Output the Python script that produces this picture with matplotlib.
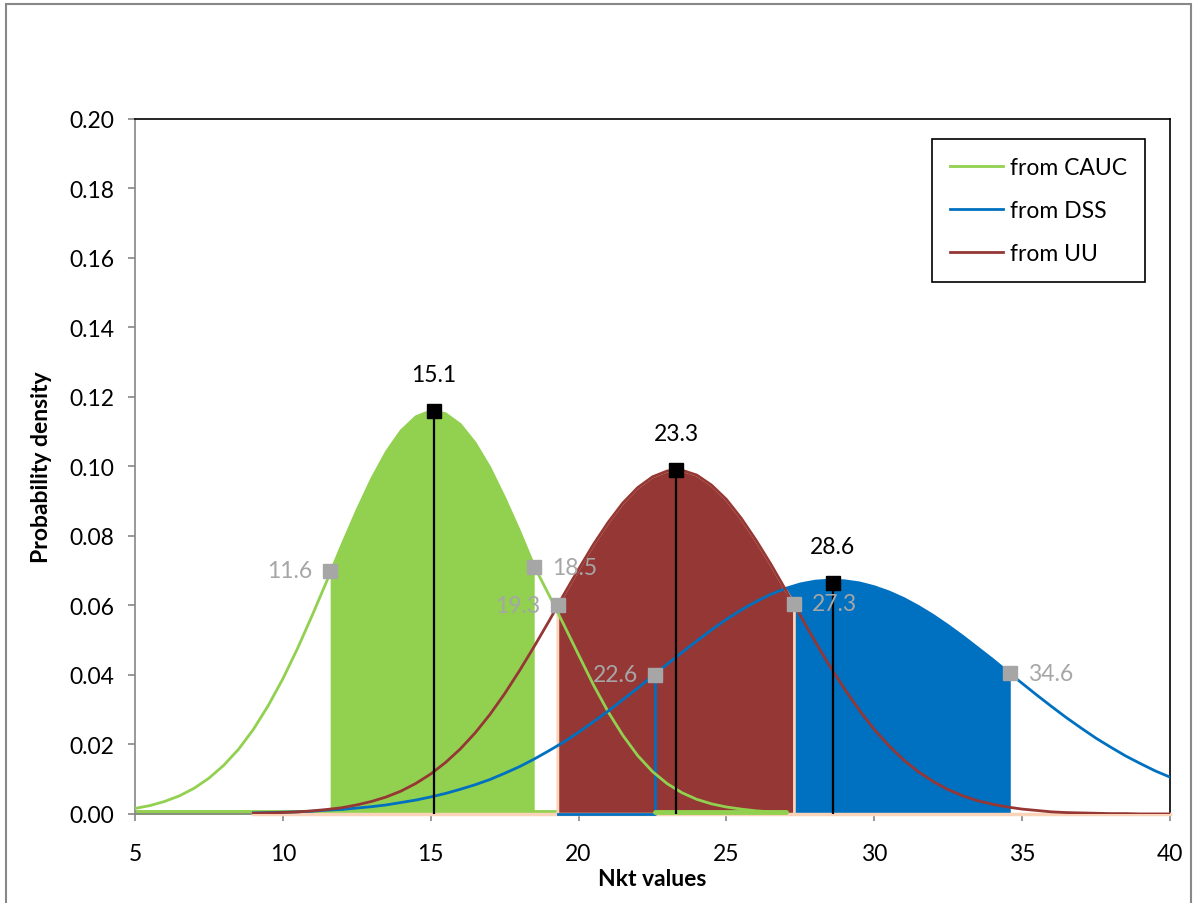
import numpy as np
import matplotlib
matplotlib.use("Agg")
import matplotlib.pyplot as plt
from matplotlib.patches import Rectangle

plt.rcParams['font.family'] = ['Lato', 'DejaVu Sans']

# curve samples (step 0.5)
x_cauc = np.arange(5, 27.01, 0.5)
y_cauc = [0.0016, 0.0024, 0.0036, 0.0052, 0.0074, 0.0103, 0.0140, 0.0186, 0.0243, 0.0311,
          0.0389, 0.0477, 0.0573, 0.0673, 0.0775, 0.0873, 0.0964, 0.1042, 0.1103, 0.1143,
          0.1160, 0.1152, 0.1121, 0.1068, 0.0997, 0.0910, 0.0815, 0.0713, 0.0630, 0.0545,
          0.0458, 0.0372, 0.0294, 0.0226, 0.0168, 0.0122, 0.0087, 0.0061, 0.0042, 0.0029,
          0.0020, 0.0014, 0.0009, 0.0006, 0.0004]

x_dss = np.arange(9, 40.01, 0.5)
y_dss = [0.0003, 0.0004, 0.0005, 0.0006, 0.0008, 0.0011, 0.0013, 0.0017, 0.0021, 0.0026,
         0.0033, 0.0040, 0.0049, 0.0059, 0.0071, 0.0084, 0.0099, 0.0117, 0.0136, 0.0158,
         0.0182, 0.0207, 0.0235, 0.0265, 0.0296, 0.0329, 0.0362, 0.0397, 0.0431, 0.0465,
         0.0498, 0.0530, 0.0560, 0.0587, 0.0611, 0.0632, 0.0649, 0.0662, 0.0670, 0.0673,
         0.0671, 0.0665, 0.0654, 0.0639, 0.0620, 0.0597, 0.0571, 0.0542, 0.0511, 0.0478,
         0.0445, 0.0410, 0.0376, 0.0342, 0.0309, 0.0277, 0.0247, 0.0218, 0.0192, 0.0167,
         0.0145, 0.0124, 0.0106]

x_uu = np.arange(9, 40.01, 0.5)
y_uu = [0.0002, 0.0003, 0.0004, 0.0006, 0.0009, 0.0013, 0.0018, 0.0026, 0.0036, 0.0049,
        0.0066, 0.0088, 0.0115, 0.0148, 0.0187, 0.0233, 0.0286, 0.0346, 0.0412, 0.0482,
        0.0555, 0.0631, 0.0704, 0.0775, 0.0839, 0.0895, 0.0939, 0.0970, 0.0987, 0.0989,
        0.0975, 0.0946, 0.0905, 0.0851, 0.0788, 0.0719, 0.0645, 0.0571, 0.0496, 0.0425,
        0.0359, 0.0298, 0.0243, 0.0196, 0.0155, 0.0121, 0.0093, 0.0070, 0.0052, 0.0038,
        0.0028, 0.0020, 0.0014, 0.0010, 0.0006, 0.0004, 0.0003, 0.0002, 0.0001, 0.0001,
        0.0000, 0.0000, 0.0000]

# modes (black) and interval bounds (grey)
mode_x = [15.1, 23.3, 28.6]
mode_y = [0.116, 0.099, 0.0665]
cauc_lo, cauc_hi = (11.6, 0.070), (18.5, 0.071)
uu_lo, uu_hi = (19.3, 0.060), (27.3, 0.0605)
dss_lo, dss_hi = (22.6, 0.040), (34.6, 0.0405)

GREEN = '#92D050'
BLUE = '#0070C0'
BROWN = '#953735'
PEACH = '#FAD3B8'
GREY = '#A6A6A6'
FS = 16.5


def band(xs, ys, lo, hi):
    xs = np.asarray(xs)
    ys = np.asarray(ys)
    m = (xs > lo[0]) & (xs < hi[0])
    bx = np.concatenate([[lo[0]], xs[m], [hi[0]]])
    by = np.concatenate([[lo[1]], ys[m], [hi[1]]])
    return bx, by


fig = plt.figure(figsize=(11.97, 9.04), dpi=100)
ax = fig.add_axes([0.1128, 0.0985, 0.8646, 0.7688])

# baselines of the area series
ax.plot([5, 27], [0.0006, 0.0006], color=GREEN, lw=3.5, solid_capstyle='butt', zorder=1,
        clip_on=False)

gx, gy = band(x_cauc, y_cauc, cauc_lo, cauc_hi)
ax.fill_between(gx, 0, gy, color=GREEN, lw=0, zorder=2)

bx, by = band(x_dss, y_dss, dss_lo, dss_hi)
ax.fill_between(bx, 0, by, color=BLUE, lw=0, zorder=2)

rx, ry = band(x_uu, y_uu, uu_lo, uu_hi)
ax.fill_between(rx, 0, ry, color=BROWN, lw=0, zorder=3)
ax.plot(np.r_[rx[0], rx, rx[-1]], np.r_[0, ry, 0], color=PEACH, lw=2, zorder=3, clip_on=False)
ax.plot([9, 40], [0, 0], color=PEACH, lw=2.5, zorder=3, clip_on=False)
ax.plot([uu_lo[0], dss_lo[0], dss_lo[0]], [0, 0, dss_lo[1]], color=BLUE, lw=2, zorder=4,
        clip_on=False)
ax.plot([22.6, 27], [0.0006, 0.0006], color=GREEN, lw=3.5, solid_capstyle='round', zorder=4,
        clip_on=False)

# density curves
ax.plot(x_cauc, y_cauc, color=GREEN, lw=2, zorder=5, label='from CAUC')
ax.plot(x_dss, y_dss, color=BLUE, lw=2, zorder=5, label='from DSS')
ax.plot(x_uu, y_uu, color=BROWN, lw=2, zorder=5, label='from UU')

# modes
for mx, my in zip(mode_x, mode_y):
    ax.plot([mx, mx], [0, my], color='black', lw=1.6, zorder=6)
    ax.plot(mx, my, 's', color='black', ms=10, zorder=7)
    ax.text(mx, my + 0.0075, f'{mx:.1f}', ha='center', va='bottom', fontsize=FS, zorder=8)

# interval bounds
bounds = [cauc_lo, cauc_hi, uu_lo, uu_hi, dss_lo, dss_hi]
sides = ['left', 'right', 'left', 'right', 'left', 'right']
for (px, py), side in zip(bounds, sides):
    ax.plot(px, py, 's', color=GREY, ms=10, zorder=7)
    if side == 'left':
        ax.text(px - 0.6, py, f'{px:.1f}', ha='right', va='center', color=GREY, fontsize=FS, zorder=8)
    else:
        ax.text(px + 0.6, py, f'{px:.1f}', ha='left', va='center', color=GREY, fontsize=FS, zorder=8)

ax.set_xlim(5, 40)
ax.set_ylim(0, 0.20)
ax.set_xticks(np.arange(5, 41, 5))
ax.set_yticks(np.arange(0, 0.201, 0.02))
ax.set_yticklabels([f'{v:.2f}' for v in np.arange(0, 0.201, 0.02)])
ax.tick_params(axis='both', direction='out', length=5, width=1.2, color='#868686', labelsize=FS)
ax.tick_params(axis='x', pad=16)
ax.tick_params(axis='y', pad=10)
for s in ['left', 'bottom']:
    ax.spines[s].set_color('#868686')
    ax.spines[s].set_linewidth(1.2)
for s in ['top', 'right']:
    ax.spines[s].set_color('black')
    ax.spines[s].set_linewidth(1.2)

ax.set_xlabel('Nkt values', fontsize=FS, fontweight='bold', labelpad=3)
ax.set_ylabel('Probability density', fontsize=FS, fontweight='bold', labelpad=12)

leg = ax.legend(loc='upper right', bbox_to_anchor=(0.976, 0.971), borderaxespad=0,
                fancybox=False, edgecolor='black', framealpha=1, fontsize=FS,
                handlelength=2.3, labelspacing=0.95, borderpad=0.8, handletextpad=0.3)
leg.get_frame().set_linewidth(1.2)

fig.patches.append(Rectangle((6 / 1197, -0.05), 1185 / 1197, 1.05 - 5 / 904,
                             transform=fig.transFigure, fill=False,
                             edgecolor='#888888', lw=1.5))

fig.savefig('out.png', dpi=100)
